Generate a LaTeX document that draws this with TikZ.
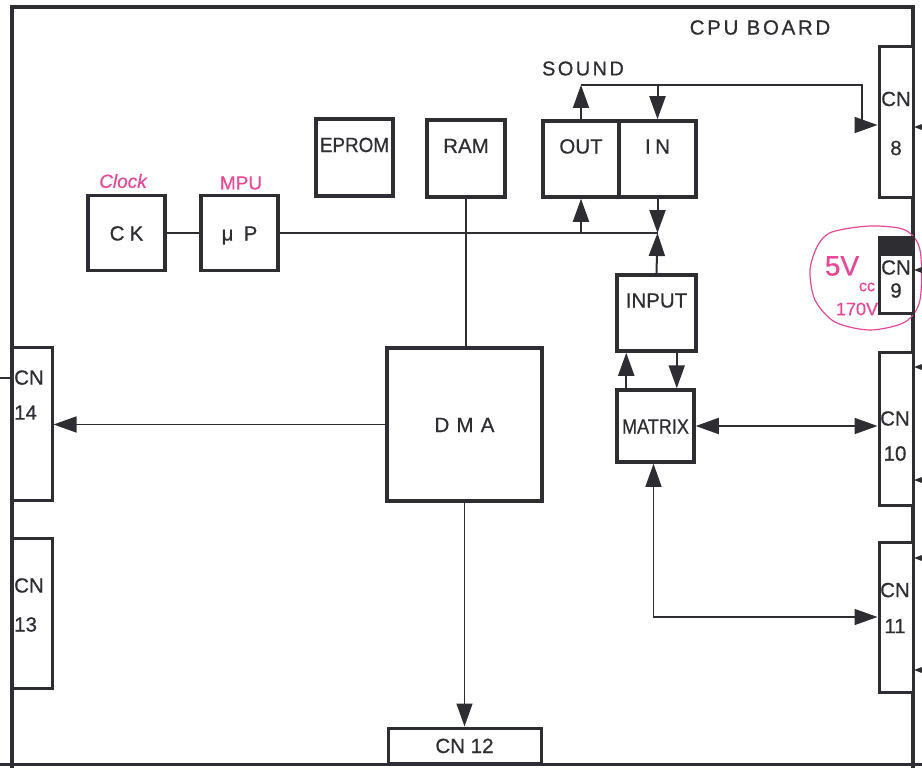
\documentclass[tikz,border=0pt]{standalone}
\usepackage{fontspec}
\setmainfont{Liberation Sans}[FakeBold=0.6]
\usetikzlibrary{arrows.meta,positioning,calc}
\definecolor{ink}{RGB}{45,45,50}
\definecolor{penpink}{RGB}{232,70,150}

\begin{document}
\begin{tikzpicture}[x=1pt, y=-1pt,
  blk/.style={rectangle, draw=ink, line width=3.5pt, fill=white, inner sep=0pt,
    text=ink, font=\fontsize{20.5}{24}\selectfont, text height=15pt, text depth=0pt},
  topblk/.style={blk, text depth=26pt},
  cnbox/.style={rectangle, draw=ink, line width=3pt, fill=white, inner sep=0pt},
  cntxt/.style={font=\fontsize{20.5}{24}\selectfont, align=center, inner sep=0pt, text=ink},
  wire/.style={draw=ink, line width=2pt},
  thinwire/.style={draw=ink, line width=1.4pt},
  arr/.style={wire, -{Triangle[length=23pt,width=16pt]}},
  tarr/.style={thinwire, -{Triangle[length=23pt,width=16pt]}},
  biarr/.style={wire, {Triangle[length=23pt,width=16pt]}-{Triangle[length=23pt,width=16pt]}},
  hand/.style={text=penpink, font=\itshape\fontsize{19}{21}\selectfont, inner sep=0pt}
]
  \useasboundingbox (0,0) rectangle (922,768);

  % board outline
  \draw[ink, line width=3.5pt] (12,768) -- (12,7) -- (913,7) -- (913,768);
  \draw[ink, line width=3pt] (0,764) -- (922,764);
  \draw[ink, line width=2pt] (0,378) -- (12,378);
  \node[font=\addfontfeature{LetterSpace=13}\fontsize{20.5}{24}\selectfont, text=ink] (title) at (760,27.5) {CPU BOARD};

  % 5V note round CN9
  \draw[penpink, line width=1.2pt] plot[smooth cycle] coordinates
    {(832,232) (870,226) (905,230) (920,250) (920,300) (905,322) (870,330) (835,322) (815,300) (810,270) (818,245)};

  % clock and processor
  \node[blk, minimum width=77pt, minimum height=75pt, font=\addfontfeature{LetterSpace=25}\fontsize{20.5}{24}\selectfont] (ck) at (126.5,233) {CK};
  \node[blk, minimum width=77pt, minimum height=75pt, font=\addfontfeature{LetterSpace=50}\fontsize{20.5}{24}\selectfont] (mpu) at (239.5,233) {μP};
  \node[hand] (ckn) at (123,181) {Clock};
  \node[hand, font=\fontsize{19}{21}\selectfont] (mpun) at (241,183) {MPU};

  % memories
  \node[topblk, minimum width=77pt, minimum height=77pt, font=\addfontfeature{FakeStretch=0.92}\fontsize{20.5}{24}\selectfont] (eprom) at (354.5,157.5) {EPROM};
  \node[topblk, minimum width=78pt, minimum height=77pt] (ram) at (466,158.5) {RAM};

  % sound
  \node[topblk, minimum width=76pt, minimum height=76pt] (out) at (581,159) {OUT};
  \node[topblk, minimum width=77pt, minimum height=76pt, right=-3.5pt of out, font=\addfontfeature{LetterSpace=22}\fontsize{20.5}{24}\selectfont] (in) {IN};
  \node[font=\addfontfeature{LetterSpace=12}\fontsize{20}{24}\selectfont, text=ink] (sound) at (583,68.5) {SOUND};

  % input and matrix
  \node[topblk, minimum width=79pt, minimum height=76pt] (input) at (656.5,313) {INPUT};
  \node[blk, minimum width=77pt, minimum height=72pt, font=\addfontfeature{FakeStretch=0.88}\fontsize{20.5}{24}\selectfont] (mtx) at (655.5,426) {MATRIX};

  % DMA
  \node[blk, minimum width=155pt, minimum height=153pt, font=\addfontfeature{LetterSpace=35}\fontsize{20.5}{24}\selectfont] (dma) at (464.5,424.5) {DMA};

  % connectors
  \node[blk, line width=3pt, minimum width=153pt, minimum height=35pt] (cn12) at (464.5,745.5) {CN 12};
  \node[cnbox, minimum width=34pt, minimum height=150pt] (cn8) at (896,122) {};
  \node[cnbox, minimum width=34pt, minimum height=76pt] (cn9) at (896,275) {};
  \fill[ink] (cn9.north west) rectangle ([yshift=-20pt]cn9.north east);
  \node[cnbox, minimum width=34pt, minimum height=153pt] (cn10) at (896,428.5) {};
  \node[cnbox, minimum width=34pt, minimum height=150pt] (cn11) at (896,617) {};
  \node[cnbox, minimum width=40pt, minimum height=153pt] (cn14) at (32,423.5) {};
  \node[cnbox, minimum width=40pt, minimum height=150pt] (cn13) at (32,613) {};

  \node[cntxt] (cn8l) at (896,123.5) {CN\\[25pt]8};
  \node[cntxt] (cn9l) at (896,279) {CN\\[-1pt]9};
  \node[cntxt] (cn10l) at (895,436) {CN\\[11pt]10};
  \node[cntxt] (cn11l) at (895,608) {CN\\[12pt]11};
  \node[cntxt, align=left, anchor=west] (cn14l) at (14,395) {CN\\[11pt]14};
  \node[cntxt, align=left, anchor=west] (cn13l) at (14,605) {CN\\[15pt]13};

  % pen note
  \node[hand, font=\fontsize{28}{30}\selectfont] (vcc) at (842,266) {5V};
  \node[hand, font=\fontsize{16}{18}\selectfont] (vccs) at (867,287) {cc};
  \node[hand, font=\fontsize{18}{20}\selectfont] (hv) at (857,309) {170V};

  % data bus
  \coordinate (jn) at (657.5,233);
  \draw[wire, line width=2.6pt] (ck) -- (mpu);
  \draw[wire, line width=2.6pt] (mpu.east) -- (jn);
  \draw[arr] (out.south |- jn) -- (out.south);
  \draw[arr] (in.south) -- (jn);
  \draw[arr] (input.north) -- (jn);

  % sound lines
  \coordinate (snd) at (581,85);
  \coordinate (sndk) at (862,85);
  \draw[arr] (out.north) -- (snd);
  \draw[arr] (snd) -- (sndk) |- ([yshift=-3pt]cn8.west);
  \draw[arr] (in.north |- snd) -- (in.north);

  % input / matrix
  \draw[arr] ([xshift=11pt]mtx.north west) -- ([xshift=11pt]input.south west);
  \draw[arr] ([xshift=-21pt]input.south east) -- ([xshift=-19pt]mtx.north east);
  \draw[biarr] (mtx.east) -- (mtx.east -| cn10.west);
  \draw[thinwire, {Triangle[length=23pt,width=16pt]}-{Triangle[length=23pt,width=16pt]}] ([xshift=-2pt]mtx.south) |- (cn11.west);

  % DMA lines
  \draw[thinwire] (ram.south) -- (ram.south |- dma.north);
  \draw[tarr] (dma.west) -- (dma.west -| cn14.east);
  \draw[tarr] (dma.south) -- (cn12.north);

  % cut arrows beyond the edge
  \foreach \yy in {127,270,367,480,558,670}
    \fill[ink] (914,\yy) -- ++(8,-3) -- ++(0,6) -- cycle;
\end{tikzpicture}
\end{document}
